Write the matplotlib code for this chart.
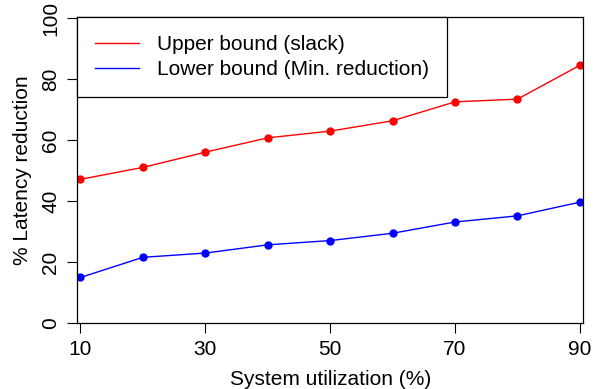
#!/usr/bin/env python3

# imports
import matplotlib
matplotlib.use("Agg")
import matplotlib.pyplot as plt

plt.rcParams['font.family'] = ['Liberation Sans', 'DejaVu Sans']

# data
utilization = [10, 20, 30, 40, 50, 60, 70, 80, 90]
upper_bound = [47.1, 51.0, 56.0, 60.7, 62.9, 66.3, 72.5, 73.4, 84.5]
lower_bound = [14.9, 21.5, 22.9, 25.6, 27.0, 29.4, 33.1, 35.1, 39.6]
x_ticks = [10, 30, 50, 70, 90]
y_ticks = [0, 20, 40, 60, 80, 100]

fig = plt.figure(figsize=(6.02, 3.89), dpi=100)
ax = fig.add_axes([0.128, 0.170, 0.841, 0.786])

ax.plot(utilization, upper_bound, color="red", linewidth=1.0,
        marker="o", markersize=5, label="Upper bound (slack)")
ax.plot(utilization, lower_bound, color="blue", linewidth=1.0,
        marker="o", markersize=5, label="Lower bound (Min. reduction)")

ax.set_xlim(9.45, 90.55)
ax.set_ylim(0, 100.3)
ax.set_xticks(x_ticks)
ax.set_yticks(y_ticks)
ax.set_yticklabels([str(v) for v in y_ticks], rotation=90, va="center")
ax.tick_params(direction="out", length=7, width=0.8, labelsize=15, pad=5)

for s in ax.spines.values():
    s.set_linewidth(0.9)

ax.set_xlabel("System utilization (%)", fontsize=15, labelpad=8)
ax.set_ylabel("% Latency reduction", fontsize=15, labelpad=7)

# legend box sits in the top-left corner of the plot
leg = ax.legend(loc="upper left", bbox_to_anchor=(0, 1), borderaxespad=0,
                fancybox=False, framealpha=1, edgecolor="black",
                fontsize=15, handlelength=2.1, handletextpad=0.9,
                borderpad=0.85, labelspacing=0.3)
leg.get_frame().set_linewidth(0.9)
for h in leg.legend_handles:
    h.set_marker("")

fig.savefig("out.png", dpi=100)
